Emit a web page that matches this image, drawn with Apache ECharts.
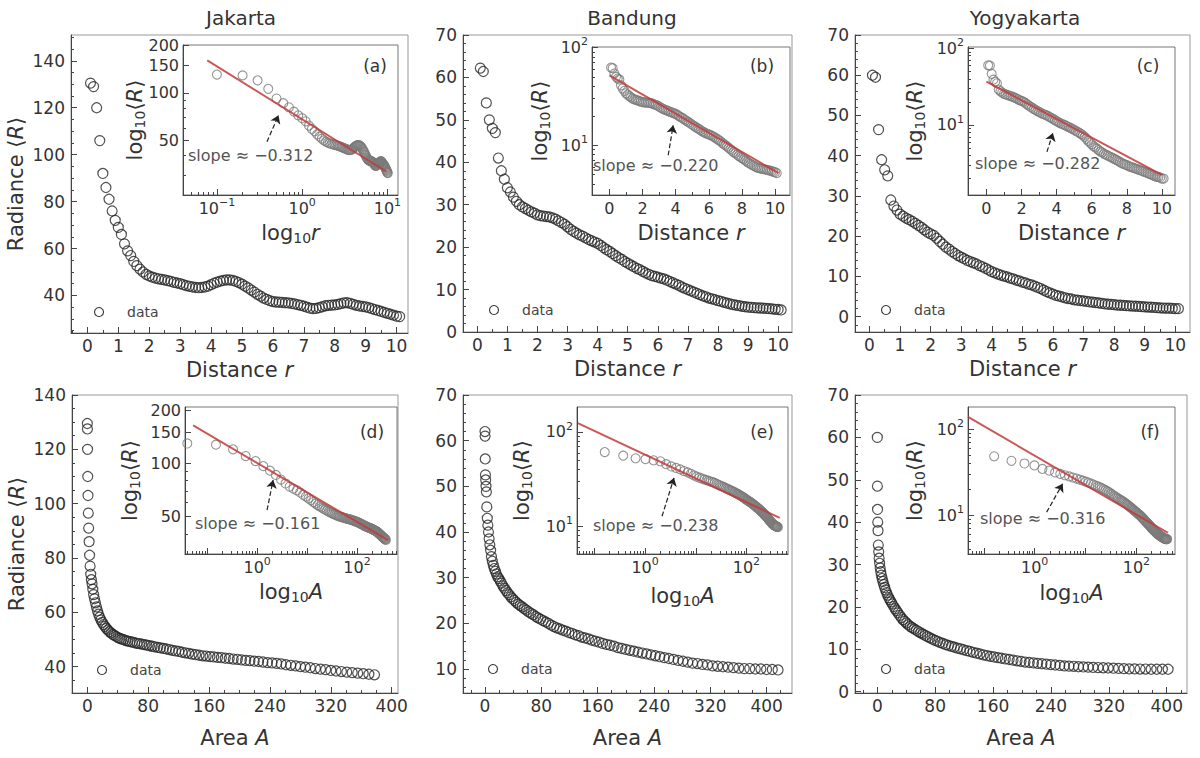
<!DOCTYPE html>
<html>
<head>
<meta charset="utf-8">
<title>Radiance profiles</title>
<script src="https://cdn.jsdelivr.net/npm/echarts@6/dist/echarts.min.js"></script>
<style>
  html, body { margin: 0; padding: 0; background: #fff; }
  #chart { width: 1200px; height: 758px; }
</style>
</head>
<body>
<div id="chart"></div>
<script>
// ---------- data ----------
var cities = ['Jakarta', 'Bandung', 'Yogyakarta'];
var letters = ['(a)', '(b)', '(c)', '(d)', '(e)', '(f)'];
var slopes = ['−0.312', '−0.220', '−0.282', '−0.161', '−0.238', '−0.316'];

var distance = [0.1,0.2,0.3,0.4,0.5,0.6,0.7,0.8,0.9,1.0,
  1.1,1.2,1.3,1.4,1.5,1.6,1.7,1.8,1.9,2.0,
  2.1,2.2,2.3,2.4,2.5,2.6,2.7,2.8,2.9,3.0,
  3.1,3.2,3.3,3.4,3.5,3.6,3.7,3.8,3.9,4.0,
  4.1,4.2,4.3,4.4,4.5,4.6,4.7,4.8,4.9,5.0,
  5.1,5.2,5.3,5.4,5.5,5.6,5.7,5.8,5.9,6.0,
  6.1,6.2,6.3,6.4,6.5,6.6,6.7,6.8,6.9,7.0,
  7.1,7.2,7.3,7.4,7.5,7.6,7.7,7.8,7.9,8.0,
  8.1,8.2,8.3,8.4,8.5,8.6,8.7,8.8,8.9,9.0,
  9.1,9.2,9.3,9.4,9.5,9.6,9.7,9.8,9.9,10.0,10.1];

var radJakarta = [130.5,129,120,106,92,86,81,76,72,69,
  66,62,59,57,54.5,52.7,51.2,50,49,48.3,
  47.8,47.4,47.1,46.8,46.6,46.3,46,45.6,45.3,45,
  44.6,44.2,43.9,43.6,43.4,43.3,43.4,43.6,44,44.6,
  45.2,45.7,46.1,46.4,46.6,46.6,46.4,46,45.5,44.8,
  44,43.2,42.3,41.4,40.5,39.7,38.9,38.3,37.8,37.4,
  37.2,37.1,37,36.9,36.8,36.6,36.4,36.1,35.8,35.4,
  35,34.6,34.4,34.5,34.8,35.2,35.6,35.8,35.9,36,
  36.2,36.5,36.8,36.9,36.6,36.2,35.8,35.5,35.3,35.1,
  34.8,34.4,34,33.6,33.2,32.8,32.4,32,31.6,31.2,31];

var radBandung = [62.2,61.4,54,50,48,47,41,38,36,34,
  33,31.8,30.8,30,29.5,29.1,28.7,28.3,28,27.6,
  27.4,27.3,27.2,27.1,26.9,26.6,26.2,25.8,25.4,24.8,
  24.2,23.7,23.3,22.9,22.6,22.2,21.8,21.5,21.2,20.9,
  20.4,19.9,19.4,19,18.5,18,17.5,17.1,16.6,16.2,
  15.8,15.4,15,14.7,14.3,13.9,13.6,13.3,13.1,12.9,
  12.7,12.5,12.2,11.9,11.6,11.3,11,10.6,10.3,10,
  9.7,9.4,9.1,8.8,8.5,8.3,8,7.8,7.6,7.4,
  7.2,7.0,6.8,6.6,6.45,6.3,6.2,6.05,5.95,5.85,
  5.8,5.75,5.7,5.65,5.6,5.55,5.5,5.45,5.35,5.3,5.2];

var radYogya = [60,59.5,46.5,39,36.5,35,29,27.5,26.5,25.5,
  25,24.5,24.1,23.7,23.2,22.7,22.2,21.6,21,20.6,
  20.2,19.5,18.7,18,17.3,16.8,16.2,15.7,15.2,14.8,
  14.4,14,13.7,13.4,13.1,12.7,12.4,12,11.6,11.2,
  10.9,10.6,10.3,10.1,9.9,9.6,9.4,9.1,8.9,8.6,
  8.4,8.1,7.9,7.6,7.3,7,6.6,6.2,5.9,5.6,
  5.3,5.1,4.9,4.7,4.5,4.4,4.2,4.1,4,3.9,
  3.8,3.7,3.6,3.5,3.4,3.3,3.2,3.1,3.05,3.0,
  2.9,2.85,2.8,2.75,2.7,2.65,2.6,2.55,2.5,2.45,
  2.4,2.35,2.3,2.25,2.2,2.15,2.1,2.1,2.05,2.0,2.0];

var areaJakarta = [0.04,0.15,0.33,0.59,0.93,1.33,1.81,2.37,3.0,3.7,
  4.48,5.33,6.25,7.25,8.33,9.47,10.7,12.0,13.4,14.8,
  16.3,17.9,19.6,21.3,23.1,25.0,27.0,29.0,31.1,33.3,
  35.6,37.9,40.3,42.8,45.3,48.0,50.7,53.4,56.3,59.2,
  62.2,65.3,68.4,71.6,74.9,78.3,81.7,85.2,88.8,92.5,
  96.2,100.0,103.9,107.9,111.9,116.0,120.2,124.5,128.8,133.2,
  137.7,142.2,146.9,151.6,156.3,161.2,166.1,171.1,176.2,181.3,
  186.5,191.8,197.2,202.6,208.1,213.7,219.4,225.1,230.9,236.8,
  242.8,248.8,254.9,261.1,267.3,273.7,280.1,286.5,293.1,299.7,
  306.4,313.2,320.0,326.9,333.9,341.0,348.1,355.3,362.6,370.0,377.4];

var areaBandung = [0.04,0.16,0.37,0.65,1.02,1.47,2.0,2.61,3.3,4.08,
  4.94,5.88,6.9,8.0,9.18,10.4,11.8,13.2,14.7,16.3,
  18.0,19.7,21.6,23.5,25.5,27.6,29.7,32.0,34.3,36.7,
  39.2,41.8,44.4,47.2,50.0,52.9,55.9,58.9,62.1,65.3,
  68.6,72.0,75.4,79.0,82.6,86.3,90.1,94.0,98.0,102.0,
  106.1,110.3,114.6,119.0,123.4,127.9,132.6,137.2,142.0,146.9,
  151.8,156.8,161.9,167.1,172.4,177.7,183.2,188.7,194.2,199.9,
  205.7,211.5,217.4,223.4,229.5,235.7,241.9,248.2,254.6,261.1,
  267.7,274.3,281.1,287.9,294.8,301.8,308.8,316.0,323.2,330.5,
  337.9,345.3,352.9,360.5,368.2,376.0,383.9,391.8,399.9,408.0,416.2];

var areaYogya = [0.04,0.16,0.35,0.63,0.99,1.42,1.93,2.52,3.19,3.94,
  4.77,5.67,6.66,7.72,8.87,10.1,11.4,12.8,14.2,15.8,
  17.4,19.1,20.8,22.7,24.6,26.6,28.7,30.9,33.1,35.5,
  37.9,40.3,42.9,45.5,48.3,51.1,53.9,56.9,59.9,63.0,
  66.2,69.5,72.9,76.3,79.8,83.4,87.0,90.8,94.6,98.5,
  102.5,106.5,110.7,114.9,119.2,123.6,128.0,132.5,137.2,141.8,
  146.6,151.5,156.4,161.4,166.5,171.6,176.9,182.2,187.6,193.1,
  198.6,204.2,210.0,215.8,221.6,227.6,233.6,239.7,245.9,252.2,
  258.5,264.9,271.4,278.0,284.7,291.4,298.2,305.1,312.1,319.1,
  326.3,333.5,340.8,348.1,355.6,363.1,370.7,378.4,386.2,394.0,401.9];

var areaRadJakarta = [129.5,127.5,120,110,103,96.5,91,86,81,77,
  74,72,70.5,68.5,66.5,65,63.5,62,60.5,59.3,
  58.2,57.2,56.3,55.5,54.8,54.1,53.5,52.9,52.4,51.9,
  51.5,51.1,50.7,50.4,50.1,49.9,49.6,49.4,49.2,49,
  48.8,48.6,48.5,48.3,48.1,47.9,47.7,47.5,47.3,47.1,
  46.9,46.7,46.5,46.3,46,45.8,45.6,45.3,45.1,44.9,
  44.6,44.4,44.2,44,43.9,43.7,43.6,43.4,43.3,43.1,
  43,42.8,42.7,42.5,42.3,42.2,42,41.9,41.7,41.5,
  41.4,41.2,41,40.7,40.5,40.3,40,39.8,39.6,39.3,
  39.1,38.9,38.6,38.4,38.2,38,37.8,37.6,37.4,37.2,37];

var areaRadBandung = [62,61,56,52.5,51.4,50,48.8,45.5,43,41.5,
  40,38.5,37.2,36,34.6,33.6,32.7,32,31.4,30.8,
  30.2,29.8,29.3,28.8,28.2,27.7,27.2,26.7,26.3,25.8,
  25.4,25,24.6,24.2,23.9,23.6,23.2,22.9,22.5,22.2,
  21.9,21.5,21.2,20.9,20.6,20.3,20,19.6,19.3,19,
  18.8,18.5,18.3,18,17.8,17.5,17.3,17,16.8,16.6,
  16.3,16.1,15.9,15.6,15.4,15.2,15,14.7,14.5,14.3,
  14.1,13.9,13.7,13.5,13.3,13.1,12.9,12.7,12.5,12.3,
  12.1,11.9,11.7,11.5,11.3,11.2,11,10.9,10.7,10.6,
  10.5,10.4,10.3,10.2,10.1,10.1,10,10,9.9,9.9,9.8];

var areaRadYogya = [60,48.5,43,40,38,34.6,33,31.5,30.3,29.2,
  28.3,27.5,26.7,26,25.3,24.6,24,23.4,22.8,22.2,
  21.7,21.2,20.7,20.1,19.6,19.1,18.6,18,17.5,17,
  16.6,16.2,15.8,15.4,15.1,14.8,14.5,14.2,13.9,13.6,
  13.3,13,12.7,12.4,12.1,11.9,11.6,11.4,11.1,10.9,
  10.7,10.5,10.3,10.1,9.9,9.7,9.5,9.3,9.1,8.9,
  8.7,8.5,8.35,8.2,8.05,7.9,7.75,7.6,7.45,7.3,
  7.15,7,6.9,6.8,6.7,6.6,6.5,6.4,6.3,6.2,
  6.1,6.05,6,5.9,5.85,5.8,5.75,5.7,5.65,5.6,
  5.55,5.5,5.45,5.4,5.4,5.35,5.35,5.3,5.3,5.3,5.3];

// fitted lines (end points) and arrow tips
var fitJakarta = [[0.077, 160.7], [9.8, 31.6]];
var fitBandung = [[0, 51.8], [10.2, 5.2]];
var fitYogya = [[0, 36.7], [10, 2.23]];
var fitAreaJakarta = [[0.0525, 164], [417, 36.9]];
var fitAreaBandung = [[0.047, 123.6], [454, 12.3]];
var fitAreaYogya = [[0.049, 138.7], [417, 6.25]];

var arrowJakarta = [[0.386, 48.9], [0.528, 72.1]];
var arrowBandung = [[3.55, 7.9], [3.85, 16.0]];
var arrowYogya = [[3.45, 4.45], [3.79, 7.87]];
var arrowAreaJakarta = [[1.58, 54.5], [2.09, 80.5]];
var arrowAreaBandung = [[2.16, 12.8], [3.72, 32.6]];
var arrowAreaYogya = [[1.72, 10.9], [3.56, 23.3]];

// tick labels
var distTicks = [0,1,2,3,4,5,6,7,8,9,10];
var areaTicks = [0,80,160,240,320,400];
var radTicksHigh = [40,60,80,100,120,140];
var radTicksLow = [0,10,20,30,40,50,60,70];
var insetDistTicks = [0,2,4,6,8,10];
var insetLinearLogTicks = [50,100,150,200];
var decadeTicks = [10,100];
var logRTicks = [0.1,1,10];
var logATicks = [0.1,1,10,100];
var logALabels = [1,100];

// ---------- helpers ----------
var FONT = 'DejaVu Sans';
var TEXT = '#333';
var AXIS = '#444';

function between(majors, n) {
  var out = [];
  for (var i = 0; i < majors.length - 1; i++) {
    var step = (majors[i + 1] - majors[i]) / n;
    for (var k = 1; k < n; k++) out.push(+(majors[i] + k * step).toFixed(4));
  }
  return out;
}
function logMinor(e0, e1) {
  var out = [];
  for (var e = e0; e <= e1; e++) {
    for (var k = 2; k < 10; k++) out.push(+(k * Math.pow(10, e)).toPrecision(3));
  }
  return out;
}
function pow10(v) {
  var e = Math.round(Math.log(v) / Math.LN10);
  return '10{sup|' + (e < 0 ? '−' + (-e) : e) + '}';
}
function plain(v) { return String(v); }
function pairs(xs, ys) { return xs.map(function (x, i) { return [x, ys[i]]; }); }

var NAME_RICH = {
  it: { fontFamily: FONT, fontSize: 21, fontStyle: 'italic', color: TEXT },
  sub: { fontFamily: FONT, fontSize: 14, color: TEXT, verticalAlign: 'bottom', lineHeight: 14 }
};
var LABEL_RICH = {
  sup: { fontFamily: FONT, fontSize: 11, color: TEXT, verticalAlign: 'top', lineHeight: 11 }
};

var NAME_DIST = 'Distance {it|r}';
var NAME_AREA = 'Area {it|A}';
var NAME_RAD = 'Radiance ⟨{it|R}⟩';
var NAME_LOGR = 'log{sub|10}{it|r}';
var NAME_LOGA = 'log{sub|10}{it|A}';
var NAME_LOGRAD = 'log{sub|10}⟨{it|R}⟩';

var specs = [
  { x: distance, y: radJakarta, fit: fitJakarta, arrow: arrowJakarta,
    main: { left: 71, top: 35, width: 337, height: 298 },
    inset: { left: 183, top: 45, width: 215, height: 150 },
    mx: { min: -0.53, max: 10.37, ticks: distTicks, minor: between([-1].concat(distTicks, [11]), 2), name: NAME_DIST, gap: 25 },
    my: { min: 24, max: 151, ticks: radTicksHigh, minor: between([20].concat(radTicksHigh, [160]), 4), name: NAME_RAD, gap: 43 },
    ix: { type: 'log', min: 0.04, max: 13.3, ticks: logRTicks, minor: logMinor(-2, 1), fmt: pow10, name: NAME_LOGR, gap: 26 },
    iy: { type: 'log', min: 22.5, max: 201, ticks: insetLinearLogTicks, minor: [30,40,60,70,80,90], name: NAME_LOGRAD, gap: 36, lh: 16 },
    tag: [375, 66], slope: [188, 155], legend: [99, 312], title: [241, 18] },
  { x: distance, y: radBandung, fit: fitBandung, arrow: arrowBandung,
    main: { left: 463, top: 35, width: 329, height: 297 },
    inset: { left: 592, top: 47, width: 198, height: 148 },
    mx: { min: -0.475, max: 10.46, ticks: distTicks, minor: between([-1].concat(distTicks, [11]), 2), name: NAME_DIST, gap: 25 },
    my: { min: 0, max: 70, ticks: radTicksLow, minor: between(radTicksLow, 5) },
    ix: { min: -1.05, max: 10.9, ticks: insetDistTicks, minor: between(insetDistTicks, 2), name: NAME_DIST, gap: 26 },
    iy: { type: 'log', min: 3.1, max: 101, ticks: decadeTicks, minor: logMinor(0, 1), fmt: pow10, name: NAME_LOGRAD, gap: 40 },
    tag: [762, 66], slope: [593, 165], legend: [494, 310], title: [632, 18] },
  { x: distance, y: radYogya, fit: fitYogya, arrow: arrowYogya,
    main: { left: 855, top: 35, width: 335, height: 297 },
    inset: { left: 968, top: 47, width: 207, height: 148 },
    mx: { min: -0.47, max: 10.48, ticks: distTicks, minor: between([-1].concat(distTicks, [11]), 2), name: NAME_DIST, gap: 25 },
    my: { min: -3.8, max: 70, ticks: radTicksLow, minor: between([-10].concat(radTicksLow), 5) },
    ix: { min: -1.05, max: 10.75, ticks: insetDistTicks, minor: between(insetDistTicks, 2), name: NAME_DIST, gap: 26 },
    iy: { type: 'log', min: 1.22, max: 104, ticks: decadeTicks, minor: logMinor(0, 1), fmt: pow10, name: NAME_LOGRAD, gap: 41 },
    tag: [1148, 66], slope: [975, 163], legend: [886, 310], title: [1025, 18] },
  { x: areaJakarta, y: areaRadJakarta, fit: fitAreaJakarta, arrow: arrowAreaJakarta,
    main: { left: 72, top: 395, width: 326, height: 298 },
    inset: { left: 185, top: 407, width: 212, height: 147 },
    mx: { min: -20.1, max: 408.3, ticks: areaTicks, minor: between([-80].concat(areaTicks, [480]), 4), name: NAME_AREA, gap: 33 },
    my: { min: 30.3, max: 140, ticks: radTicksHigh, minor: between([20].concat(radTicksHigh), 4), name: NAME_RAD, gap: 43 },
    ix: { type: 'log', min: 0.036, max: 631, ticks: logATicks, labels: logALabels, minor: logMinor(-2, 2), fmt: pow10, name: NAME_LOGA, gap: 26 },
    iy: { type: 'log', min: 30.8, max: 208, ticks: insetLinearLogTicks, minor: [40,60,70,80,90], name: NAME_LOGRAD, gap: 43, lh: 16 },
    tag: [372, 432], slope: [195, 523], legend: [102, 670], title: null },
  { x: areaBandung, y: areaRadBandung, fit: fitAreaBandung, arrow: arrowAreaBandung,
    main: { left: 463, top: 395, width: 329, height: 298 },
    inset: { left: 577, top: 407, width: 211, height: 147 },
    mx: { min: -31.2, max: 436, ticks: areaTicks, minor: between([-80].concat(areaTicks, [480]), 4), name: NAME_AREA, gap: 33 },
    my: { min: 4.75, max: 70, ticks: radTicksLow.slice(1), minor: between(radTicksLow, 5) },
    ix: { type: 'log', min: 0.0453, max: 661, ticks: logATicks, labels: logALabels, minor: logMinor(-2, 2), fmt: pow10, name: NAME_LOGA, gap: 30 },
    iy: { type: 'log', min: 5.1, max: 183, ticks: decadeTicks, minor: logMinor(0, 1), fmt: pow10, name: NAME_LOGRAD, gap: 43 },
    tag: [762, 432], slope: [593, 525], legend: [493, 669], title: null },
  { x: areaYogya, y: areaRadYogya, fit: fitAreaYogya, arrow: arrowAreaYogya,
    main: { left: 855, top: 395, width: 332, height: 298 },
    inset: { left: 968, top: 407, width: 207, height: 147 },
    mx: { min: -30.8, max: 428, ticks: areaTicks, minor: between([-80].concat(areaTicks, [480]), 4), name: NAME_AREA, gap: 33 },
    my: { min: -0.3, max: 70, ticks: radTicksLow, minor: between(radTicksLow, 5) },
    ix: { type: 'log', min: 0.049, max: 573, ticks: logATicks, labels: logALabels, minor: logMinor(-2, 2), fmt: pow10, name: NAME_LOGA, gap: 27 },
    iy: { type: 'log', min: 3.56, max: 181, ticks: decadeTicks, minor: logMinor(0, 1), fmt: pow10, name: NAME_LOGRAD, gap: 41 },
    tag: [1150, 432], slope: [980, 518], legend: [886, 669], title: null }
];

// ---------- build the option ----------
var grids = [], xAxes = [], yAxes = [], series = [], elements = [];

function addAxis(list, dim, gridIndex, o, inset) {
  var idx = list.length;
  var pos = dim === 'x' ? 'bottom' : 'left';
  var type = o.type || 'value';
  var margin = dim === 'x' ? (inset ? 2 : 3) : (inset ? 4 : 6);
  list.push({
    type: type, gridIndex: gridIndex, position: pos, min: o.min, max: o.max,
    name: o.name || '', nameLocation: 'middle', nameGap: o.gap || 0,
    nameRotate: dim === 'y' ? 90 : 0, nameMoveOverlap: false,
    nameTextStyle: { fontFamily: FONT, fontSize: 21, lineHeight: 24, color: TEXT, rich: NAME_RICH },
    axisLine: { show: true, onZero: false, lineStyle: { color: AXIS, width: 1 } },
    axisTick: { show: true, inside: true, length: 6, customValues: o.ticks, lineStyle: { color: AXIS, width: 1 } },
    axisLabel: {
      show: true, customValues: o.labels || o.ticks, formatter: o.fmt || plain, margin: margin,
      hideOverlap: false, fontFamily: FONT, fontSize: inset ? 16 : 17,
      lineHeight: o.lh || (inset ? 22 : 20), color: TEXT, rich: LABEL_RICH
    },
    splitLine: { show: false }, minorTick: { show: false }, minorSplitLine: { show: false }
  });
  if (o.minor) {
    list.push({
      type: type, gridIndex: gridIndex, position: pos, min: o.min, max: o.max,
      axisLine: { show: false, onZero: false },
      axisTick: { show: true, inside: true, length: 3, customValues: o.minor, lineStyle: { color: AXIS, width: 1 } },
      axisLabel: { show: false }, splitLine: { show: false }
    });
  }
  return idx;
}

function textEl(x, y, text, size, align, color) {
  return {
    type: 'text', x: x, y: y, silent: true, z: 100,
    style: {
      text: text, fontFamily: FONT, fontSize: size, fill: color || TEXT,
      align: align, verticalAlign: 'middle', textAlign: align, textVerticalAlign: 'middle'
    }
  };
}

specs.forEach(function (sp, i) {
  var gMain = grids.length;
  grids.push({ left: sp.main.left, top: sp.main.top, width: sp.main.width, height: sp.main.height,
    show: true, borderColor: '#999', borderWidth: 1, backgroundColor: 'rgba(0,0,0,0)',
    containLabel: false, outerBoundsMode: 'none' });
  var gIn = grids.length;
  grids.push({ left: sp.inset.left, top: sp.inset.top, width: sp.inset.width, height: sp.inset.height,
    show: true, borderColor: '#777', borderWidth: 1, backgroundColor: '#fff',
    containLabel: false, outerBoundsMode: 'none' });

  var mx = addAxis(xAxes, 'x', gMain, sp.mx, false);
  var my = addAxis(yAxes, 'y', gMain, sp.my, false);
  var ix = addAxis(xAxes, 'x', gIn, sp.ix, true);
  var iy = addAxis(yAxes, 'y', gIn, sp.iy, true);

  series.push({
    type: 'scatter', name: 'data', xAxisIndex: mx, yAxisIndex: my,
    data: pairs(sp.x, sp.y), symbol: 'circle', symbolSize: 10, silent: true, z: 2,
    itemStyle: { color: 'rgba(255,255,255,0)', borderColor: '#262626', borderWidth: 1.2 }
  });
  series.push({
    type: 'scatter', name: 'data', xAxisIndex: ix, yAxisIndex: iy,
    data: pairs(sp.x, sp.y), symbol: 'circle', symbolSize: 9, silent: true, z: 3,
    itemStyle: { color: 'rgba(255,255,255,0)', borderColor: '#7a7a7a', borderWidth: 1.1 }
  });
  series.push({
    type: 'line', name: 'fit', xAxisIndex: ix, yAxisIndex: iy,
    data: sp.fit, symbol: 'none', silent: true, z: 4,
    lineStyle: { color: 'rgba(196,58,58,0.85)', width: 2 },
    markLine: {
      silent: true, animation: false, symbol: ['none', 'arrow'], symbolSize: 8,
      label: { show: false },
      lineStyle: { type: 'dashed', color: '#222', width: 1.2 },
      data: [[{ coord: sp.arrow[0] }, { coord: sp.arrow[1] }]]
    }
  });

  elements.push(textEl(sp.tag[0], sp.tag[1], letters[i], 17, 'center'));
  elements.push(textEl(sp.slope[0], sp.slope[1], 'slope ≈ ' + slopes[i], 16, 'left', '#555'));
  elements.push({
    type: 'circle', silent: true, z: 100,
    shape: { cx: sp.legend[0], cy: sp.legend[1], r: 4.5 },
    style: { fill: 'none', stroke: '#333', lineWidth: 1.1 }
  });
  elements.push(textEl(sp.legend[0] + 28, sp.legend[1], 'data', 14, 'left', '#444'));
  if (sp.title) elements.push(textEl(sp.title[0], sp.title[1], cities[i], 20, 'center'));
});

var chart = echarts.init(document.getElementById('chart'), null, { renderer: 'svg' });
chart.setOption({
  animation: false,
  backgroundColor: '#fff',
  grid: grids,
  xAxis: xAxes,
  yAxis: yAxes,
  series: series,
  graphic: { elements: elements }
});
</script>
</body>
</html>
